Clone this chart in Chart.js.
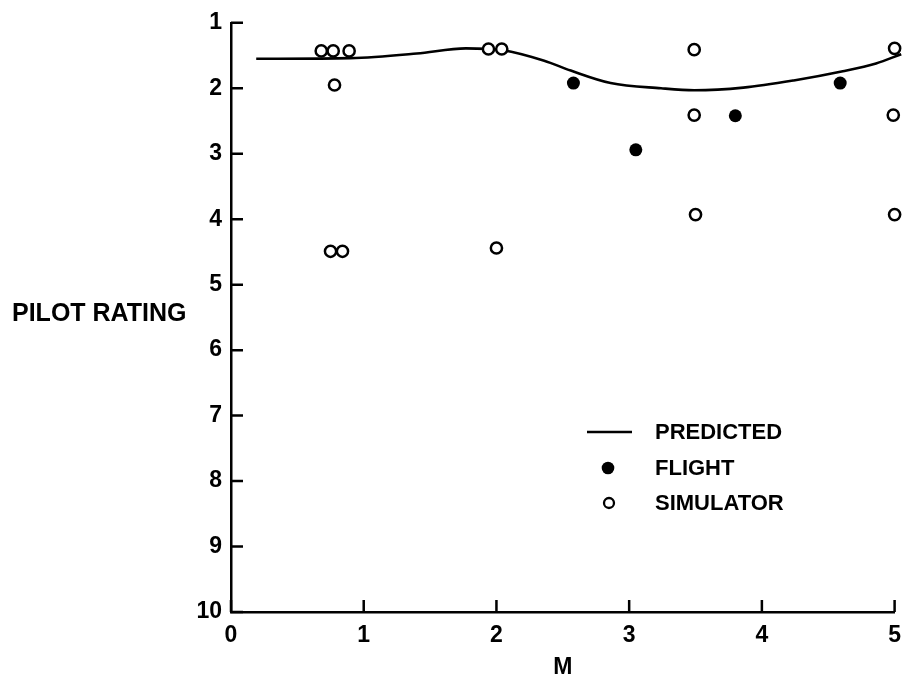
<!DOCTYPE html>
<html>
<head>
<meta charset="utf-8">
<script src="https://cdn.jsdelivr.net/npm/chart.js@4"></script>
<style>
  html, body { margin: 0; padding: 0; background: #fff; }
  #wrap { width: 911px; height: 689px; position: relative; }
</style>
</head>
<body>
<div id="wrap"><canvas id="c" width="911" height="689"></canvas></div>
<script>
// ---- data ----
const predictedM      = [0.19, 0.9, 1.4, 1.77, 2.05, 2.36, 2.56, 2.86, 3.24, 3.49, 3.86, 4.24, 4.61, 4.86, 5.05];
const predictedRating = [1.55, 1.54, 1.47, 1.39, 1.42, 1.58, 1.73, 1.92, 2.00, 2.03, 1.99, 1.88, 1.74, 1.62, 1.48];

const flightM      = [2.58, 3.05, 3.80, 4.59];
const flightRating = [1.92, 2.94, 2.42, 1.92];

const simulatorM      = [0.68, 0.77, 0.89, 0.78, 0.75, 0.84, 1.94, 2.04, 2.00, 3.49, 3.49, 3.50, 5.00, 4.99, 5.00];
const simulatorRating = [1.43, 1.43, 1.43, 1.95, 4.49, 4.49, 1.40, 1.40, 4.44, 1.41, 2.41, 3.93, 3.93, 2.41, 1.39];

const xTicks = [0, 1, 2, 3, 4, 5];
const yTicks = [1, 2, 3, 4, 5, 6, 7, 8, 9, 10];

const xTitle = 'M';
const yTitle = 'PILOT RATING';
const legendLabels = ['PREDICTED', 'FLIGHT', 'SIMULATOR'];

// ---- helpers ----
const zip = (xs, ys) => xs.map((x, i) => ({ x: x, y: ys[i] }));
const FONT = '"Liberation Sans", Arial, sans-serif';

const inwardTicks = {
  id: 'inwardTicks',
  afterDatasetsDraw(chart) {
    const { ctx, chartArea, scales } = chart;
    ctx.save();
    ctx.strokeStyle = '#000';
    ctx.lineWidth = 2.5;
    ctx.beginPath();
    yTicks.forEach(v => {
      const py = scales.y.getPixelForValue(v);
      ctx.moveTo(chartArea.left, py);
      ctx.lineTo(chartArea.left + 12, py);
    });
    xTicks.forEach(v => {
      const px = scales.x.getPixelForValue(v);
      ctx.moveTo(px, chartArea.bottom);
      ctx.lineTo(px, chartArea.bottom - 12);
    });
    ctx.stroke();
    ctx.restore();
  }
};

const sideTitleAndLegend = {
  id: 'sideTitleAndLegend',
  afterDraw(chart) {
    const { ctx } = chart;
    ctx.save();
    ctx.fillStyle = '#000';
    ctx.font = 'bold 25px ' + FONT;
    ctx.textAlign = 'left';
    ctx.textBaseline = 'middle';
    ctx.fillText(yTitle, 12, 314);

    // legend
    const ds = chart.data.datasets;
    const lx = 655;
    const rows = [432, 468, 503];
    ctx.font = 'bold 22px ' + FONT;
    legendLabels.forEach((t, i) => ctx.fillText(t, lx, rows[i] + 1));
    // line sample
    ctx.strokeStyle = ds[0].borderColor;
    ctx.lineWidth = ds[0].borderWidth;
    ctx.beginPath();
    ctx.moveTo(587, rows[0]);
    ctx.lineTo(632, rows[0]);
    ctx.stroke();
    // flight sample
    ctx.beginPath();
    ctx.arc(608, rows[1], 6.3, 0, Math.PI * 2);
    ctx.fillStyle = ds[1].backgroundColor;
    ctx.fill();
    // simulator sample
    ctx.beginPath();
    ctx.arc(609, rows[2], 5, 0, Math.PI * 2);
    ctx.fillStyle = '#fff';
    ctx.fill();
    ctx.strokeStyle = ds[2].borderColor;
    ctx.lineWidth = 2.3;
    ctx.stroke();
    ctx.restore();
  }
};

new Chart(document.getElementById('c'), {
  type: 'scatter',
  data: {
    datasets: [
      {
        label: legendLabels[0],
        data: zip(predictedM, predictedRating),
        showLine: true,
        borderColor: '#000',
        borderWidth: 2.6,
        pointRadius: 0,
        fill: false,
        cubicInterpolationMode: 'monotone',
        clip: false,
        order: 3
      },
      {
        label: legendLabels[1],
        data: zip(flightM, flightRating),
        pointRadius: 6.5,
        pointBackgroundColor: '#000',
        backgroundColor: '#000',
        borderColor: '#000',
        pointBorderWidth: 0,
        clip: false,
        order: 2
      },
      {
        label: legendLabels[2],
        data: zip(simulatorM, simulatorRating),
        pointRadius: 5.6,
        pointBackgroundColor: '#fff',
        backgroundColor: '#fff',
        borderColor: '#000',
        pointBorderWidth: 2.5,
        clip: false,
        order: 1
      }
    ]
  },
  options: {
    responsive: false,
    animation: false,
    events: [],
    layout: { padding: { top: 15, right: 13, left: 0, bottom: 0 } },
    plugins: {
      legend: { display: false },
      tooltip: { enabled: false }
    },
    scales: {
      x: {
        type: 'linear',
        min: 0, max: 5,
        afterBuildTicks: s => { s.ticks = xTicks.map(v => ({ value: v })); },
        afterFit: s => { s.height = 77; },
        grid: { display: true, drawOnChartArea: false, drawTicks: false },
        border: { display: true, color: '#000', width: 2.5 },
        ticks: { color: '#000', padding: 10, font: { family: FONT, size: 23, weight: 'bold' } },
        title: { display: true, text: xTitle, color: '#000', padding: { top: 0, bottom: 8 },
                 font: { family: FONT, size: 23, weight: 'bold' } }
      },
      y: {
        type: 'linear',
        reverse: true,
        min: 1, max: 10,
        afterBuildTicks: s => { s.ticks = yTicks.map(v => ({ value: v })); },
        afterFit: s => { s.width = 231; },
        grid: { display: true, drawOnChartArea: false, drawTicks: false },
        border: { display: true, color: '#000', width: 2.5 },
        ticks: { color: '#000', padding: 9, font: { family: FONT, size: 23, weight: 'bold' } }
      }
    }
  },
  plugins: [inwardTicks, sideTitleAndLegend]
});
</script>
</body>
</html>
